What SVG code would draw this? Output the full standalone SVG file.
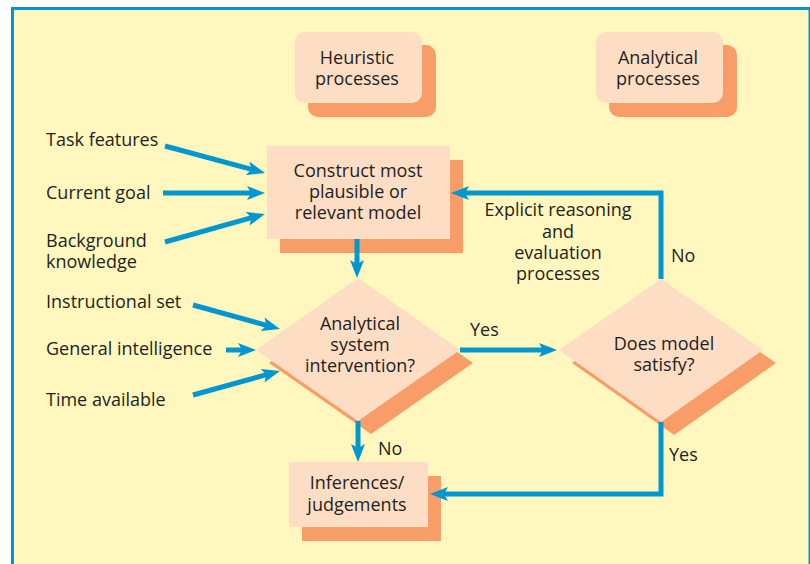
<svg xmlns="http://www.w3.org/2000/svg" width="810" height="564" viewBox="0 0 810 564">
  <defs>
    <marker id="arrow" viewBox="0 0 18 14" markerWidth="18" markerHeight="14" refX="6" refY="7" orient="auto" markerUnits="userSpaceOnUse">
      <path d="M0,0 L18,7 L0,14 L4,7 Z" fill="#0096CF"/>
    </marker>
  </defs>
  <style>
    text { font-family: "Open Sans", "Liberation Sans", sans-serif; font-size: 18px; fill: #231F20; }
    .c { text-anchor: middle; }
    .face { fill: #FDDDC4; }
    .shadow { fill: #F89D67; }
    .conn { fill: none; stroke: #0096CF; stroke-width: 5; marker-end: url(#arrow); }
  </style>

  <!-- panel -->
  <rect x="12.5" y="8.5" width="797.5" height="600" fill="#FFF7BD" stroke="#0096CF" stroke-width="3"/>

  <!-- legend -->
  <g id="heuristic-legend">
    <rect class="shadow" x="308" y="45" width="128" height="72" rx="10"/>
    <rect class="face" x="295" y="32" width="127" height="71" rx="10"/>
    <text class="c" x="357" y="64">Heuristic</text>
    <text class="c" x="357" y="85">processes</text>
  </g>
  <g id="analytical-legend">
    <rect class="shadow" x="609" y="45" width="128" height="72" rx="10"/>
    <rect class="face" x="596" y="32" width="127" height="71" rx="10"/>
    <text class="c" x="658" y="64">Analytical</text>
    <text class="c" x="658" y="85">processes</text>
  </g>

  <!-- input labels -->
  <g id="inputs">
    <text x="46" y="146">Task features</text>
    <text x="46" y="199">Current goal</text>
    <text x="46" y="247">Background</text>
    <text x="46" y="268">knowledge</text>
    <text x="46" y="308">Instructional set</text>
    <text x="46" y="355">General intelligence</text>
    <text x="46" y="406">Time available</text>
  </g>

  <!-- nodes -->
  <g id="construct-model">
    <rect class="shadow" x="280" y="160" width="183" height="93"/>
    <rect class="face" x="267" y="146" width="183" height="93"/>
    <text class="c" x="358" y="177">Construct most</text>
    <text class="c" x="358" y="198">plausible or</text>
    <text class="c" x="358" y="219">relevant model</text>
  </g>

  <g id="analytical-intervention">
    <polygon class="shadow" points="371,291 473,363 371,434 269,363"/>
    <polygon class="face" points="358,278 460,350 358,421 256,350"/>
    <text class="c" x="360" y="330">Analytical</text>
    <text class="c" x="360" y="351">system</text>
    <text class="c" x="360" y="372">intervention?</text>
  </g>

  <g id="model-satisfy">
    <polygon class="shadow" points="674,292 776,363 674,435 572,363"/>
    <polygon class="face" points="661,279 763,350 661,422 559,350"/>
    <text class="c" x="664" y="350">Does model</text>
    <text class="c" x="664" y="371">satisfy?</text>
  </g>

  <g id="inferences">
    <rect class="shadow" x="302" y="476" width="139" height="65"/>
    <rect class="face" x="289" y="462" width="139" height="65"/>
    <text class="c" x="357" y="489">Inferences/</text>
    <text class="c" x="357" y="511">judgements</text>
  </g>

  <!-- connectors -->
  <g id="connectors">
    <line class="conn" x1="165" y1="146" x2="253.4" y2="169.9"/>
    <line class="conn" x1="163" y1="193" x2="253" y2="193"/>
    <line class="conn" x1="165" y1="242" x2="253.4" y2="217.2"/>
    <line class="conn" x1="193" y1="305" x2="268.4" y2="325.8"/>
    <line class="conn" x1="226" y1="350" x2="244" y2="350"/>
    <line class="conn" x1="193" y1="395" x2="268.4" y2="374.2"/>
    <line class="conn" x1="357" y1="239" x2="357" y2="266"/>
    <line class="conn" x1="358" y1="421" x2="358" y2="450"/>
    <line class="conn" x1="460" y1="350" x2="545" y2="350"/>
    <path class="conn" d="M661,279 V193 H463"/>
    <path class="conn" d="M661,422 V494 H442"/>
  </g>

  <!-- connector labels -->
  <g id="labels">
    <text x="470" y="336">Yes</text>
    <text x="378" y="455">No</text>
    <text x="671" y="262">No</text>
    <text x="669" y="461">Yes</text>
    <text class="c" x="558" y="216">Explicit reasoning</text>
    <text class="c" x="558" y="238">and</text>
    <text class="c" x="558" y="259">evaluation</text>
    <text class="c" x="558" y="280">processes</text>
  </g>
</svg>
